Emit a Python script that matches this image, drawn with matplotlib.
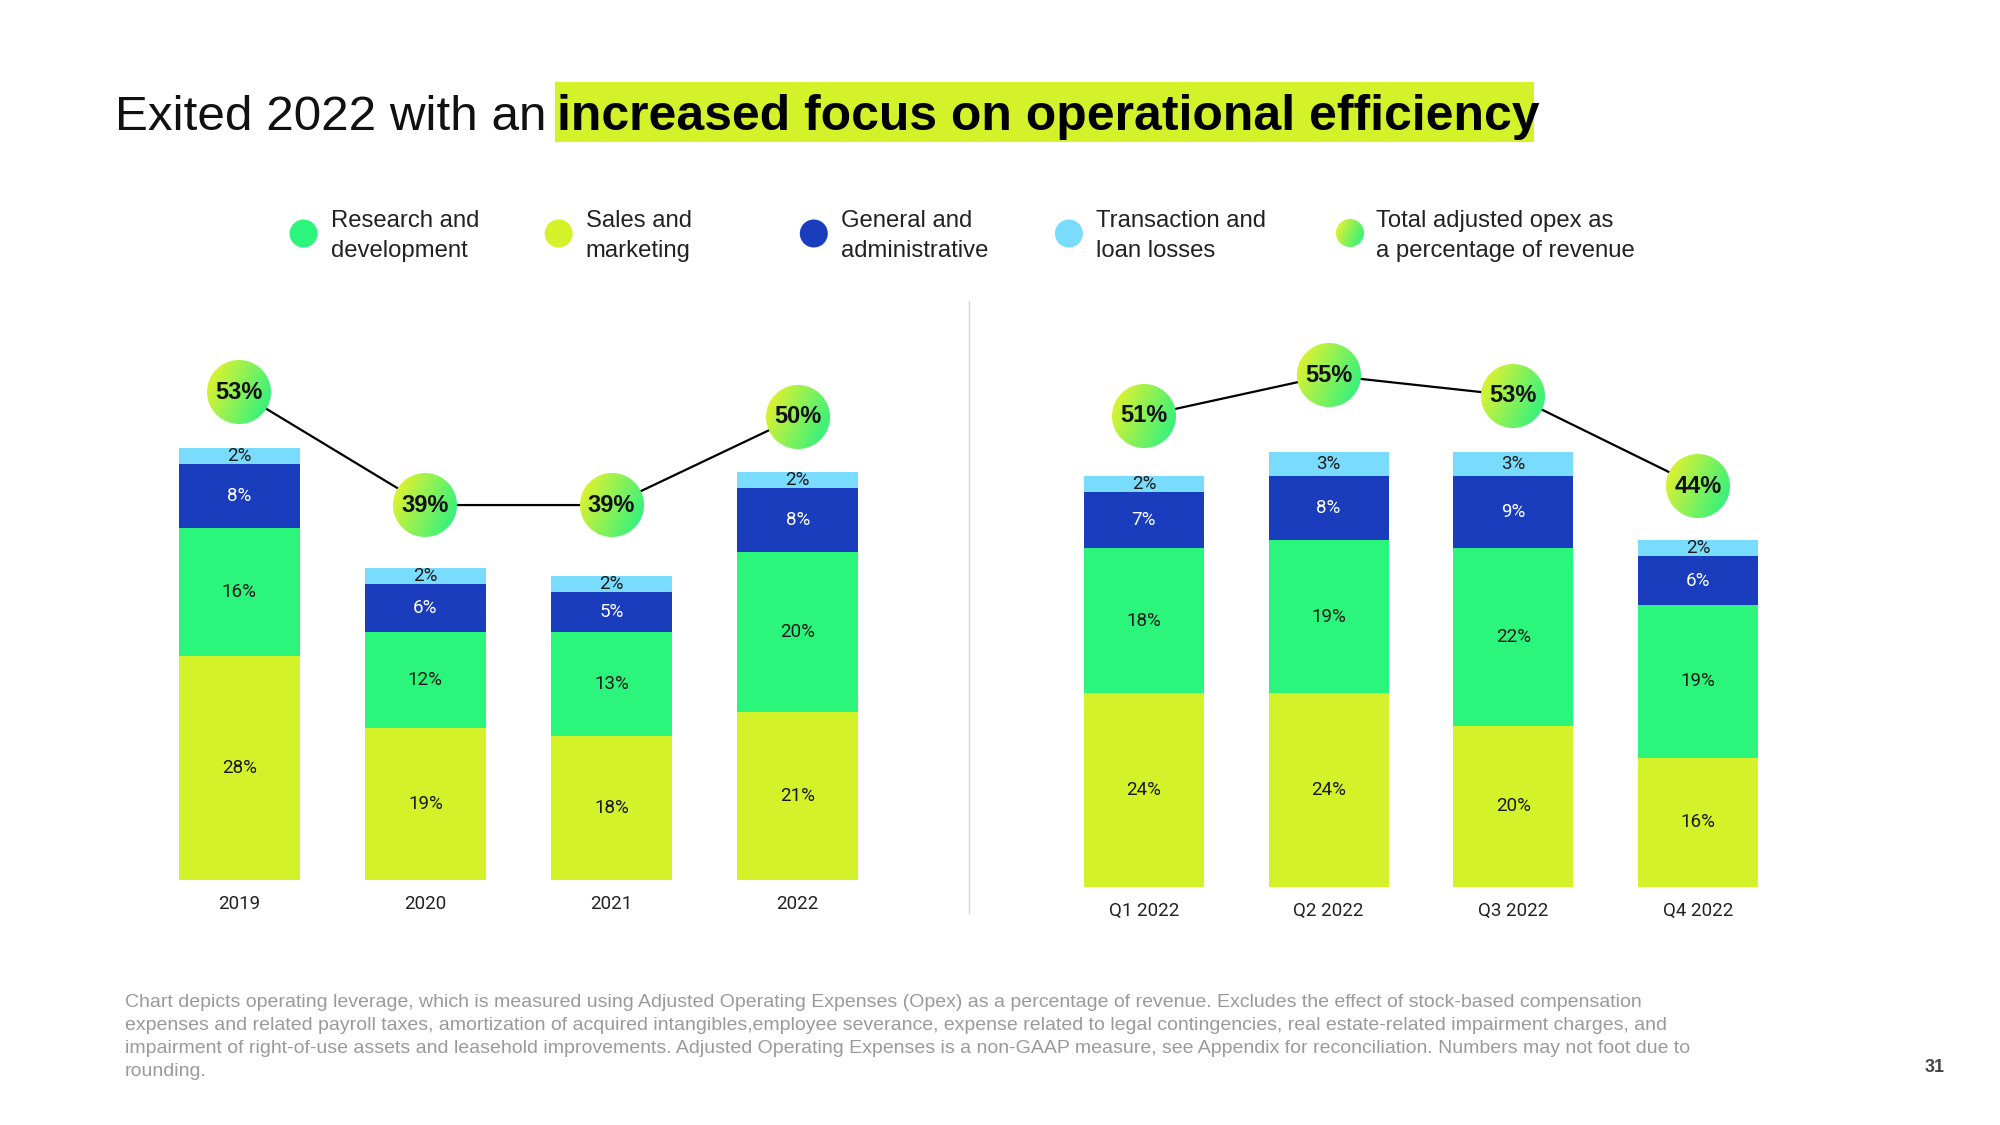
import numpy as np
import matplotlib
matplotlib.use('Agg')
import matplotlib.pyplot as plt
from matplotlib.colors import to_rgb
from matplotlib.patches import Rectangle, Circle
from matplotlib.offsetbox import OffsetImage, AnnotationBbox

plt.rcParams['font.family'] = ['Liberation Sans', 'DejaVu Sans']

# annual data (% of revenue)
years = ['2019', '2020', '2021', '2022']
sm_year = [28, 19, 18, 21]
rd_year = [16, 12, 13, 20]
ga_year = [8, 6, 5, 8]
tl_year = [2, 2, 2, 2]
opex_year = [53, 39, 39, 50]

# quarterly data (% of revenue)
quarters = ['Q1 2022', 'Q2 2022', 'Q3 2022', 'Q4 2022']
sm_qtr = [24, 24, 20, 16]
rd_qtr = [18, 19, 22, 19]
ga_qtr = [7, 8, 9, 6]
tl_qtr = [2, 3, 3, 2]
opex_qtr = [51, 55, 53, 44]

legend_labels = ['Research and\ndevelopment', 'Sales and\nmarketing',
                 'General and\nadministrative', 'Transaction and\nloan losses',
                 'Total adjusted opex as\na percentage of revenue']

footnote = ("Chart depicts operating leverage, which is measured using Adjusted Operating Expenses (Opex) as a percentage of revenue. Excludes the effect of stock-based compensation\n"
            "expenses and related payroll taxes, amortization of acquired intangibles,employee severance, expense related to legal contingencies, real estate-related impairment charges, and\n"
            "impairment of right-of-use assets and leasehold improvements. Adjusted Operating Expenses is a non-GAAP measure, see Appendix for reconciliation. Numbers may not foot due to\n"
            "rounding.")

LIME = '#d3f22a'
GREEN = '#2cf57c'
BLUE = '#1a3dbe'
SKY = '#7adcfc'
DARK = '#1a1a1a'


def gradient_disc(diam, c1='#d6f234', c2='#3cf27a'):
    n = int(round(diam)) + 2
    yy, xx = np.mgrid[0:n, 0:n] + 0.5
    c = n / 2
    dist = np.hypot(xx - c, yy - c)
    alpha = np.clip(diam / 2 - dist + 0.5, 0, 1)
    t = np.clip((1.4 * (xx - c) + 0.6 * (yy - c)) / (diam * 1.4) + 0.5, 0, 1)
    a = np.array(to_rgb(c1))
    b = np.array(to_rgb(c2))
    rgb = a * (1 - t[..., None]) + b * t[..., None]
    return np.dstack([rgb, alpha])


def draw_panel(ax, labels, sm, rd, ga, tl, opex, line_lim):
    x = np.arange(len(labels))
    bottom = np.zeros(len(labels))
    for vals, color, tcolor in [(sm, LIME, DARK), (rd, GREEN, DARK),
                                (ga, BLUE, 'white'), (tl, SKY, DARK)]:
        bars = ax.bar(x, vals, 0.65, bottom=bottom, color=color, linewidth=0, zorder=2)
        ax.bar_label(bars, labels=[f'{v}%' for v in vals], label_type='center',
                     color=tcolor, fontsize=13.5, fontfamily='Roboto')
        bottom += vals
    ax.set_xlim(-0.6, len(labels) - 0.4)
    ax.set_ylim(0, 70)
    ax.set_xticks(x, labels, fontfamily='Roboto', fontsize=13.5, color='#222222')
    ax.tick_params(axis='x', length=0, pad=11)
    ax.set_yticks([])
    for s in ax.spines.values():
        s.set_visible(False)
    ax.set_facecolor('none')

    ax2 = ax.twinx()
    ax2.set_ylim(*line_lim)
    ax2.axis('off')
    ax2.plot(x, opex, color='black', lw=1.6, zorder=1)
    disc = gradient_disc(64)
    for xi, v in zip(x, opex):
        ab = AnnotationBbox(OffsetImage(disc, dpi_cor=False), (xi, v), xycoords='data',
                            frameon=False, pad=0, zorder=3)
        ax2.add_artist(ab)
        ax2.text(xi, v, f'{v}%', ha='center', va='center', fontsize=17,
                 fontweight='bold', color='#111111', zorder=4)


fig = plt.figure(figsize=(20, 11.25), dpi=100)

# overlay in pixel coordinates for title, legend and notes
ov = fig.add_axes([0, 0, 1, 1])
ov.set_xlim(0, 2000)
ov.set_ylim(1125, 0)
ov.axis('off')

ov.add_patch(Rectangle((555, 82), 979, 60, facecolor=LIME, edgecolor='none'))
ov.text(115, 130, 'Exited 2022 with an', fontsize=35.6, color='#111111', va='baseline')
ov.text(557, 130, 'increased focus on operational efficiency', fontsize=35.9,
        fontweight='bold', color='#000000', va='baseline')

legend_x = [303.6, 558.7, 813.8, 1068.9, 1349.5]
legend_colors = [GREEN, LIME, BLUE, SKY, None]
for lx, col, lab in zip(legend_x, legend_colors, legend_labels):
    if col is None:
        ab = AnnotationBbox(OffsetImage(gradient_disc(28), dpi_cor=False), (lx, 233.5),
                            xycoords='data', frameon=False, pad=0)
        ov.add_artist(ab)
    else:
        ov.add_patch(Circle((lx, 233.5), 14, facecolor=col, edgecolor='none'))
    ov.text(lx + 27, 236, lab, fontsize=17.2, color='#222222', va='center',
            ha='left', linespacing=1.42)

ov.plot([969, 969], [301, 913], color='#d5d5d5', lw=1)

ov.text(125, 1037, footnote, fontsize=14.0, color='#9a9a9a', va='center',
        ha='left', linespacing=1.45)
ov.text(1935, 1068, '31', fontsize=13, fontweight='bold', color='#444444',
        ha='center', va='center')

ax_left = fig.add_axes([127.5 / 2000, 245 / 1125, 782 / 2000, 560 / 1125])
draw_panel(ax_left, years, sm_year, rd_year, ga_year, tl_year, opex_year, (-7.6, 62.0))

ax_right = fig.add_axes([1033.2 / 2000, 238.5 / 1125, 775.6 / 2000, 563.5 / 1125])
draw_panel(ax_right, quarters, sm_qtr, rd_qtr, ga_qtr, tl_qtr, opex_qtr, (4.3, 60.2))

fig.savefig('out.png', dpi=100)
